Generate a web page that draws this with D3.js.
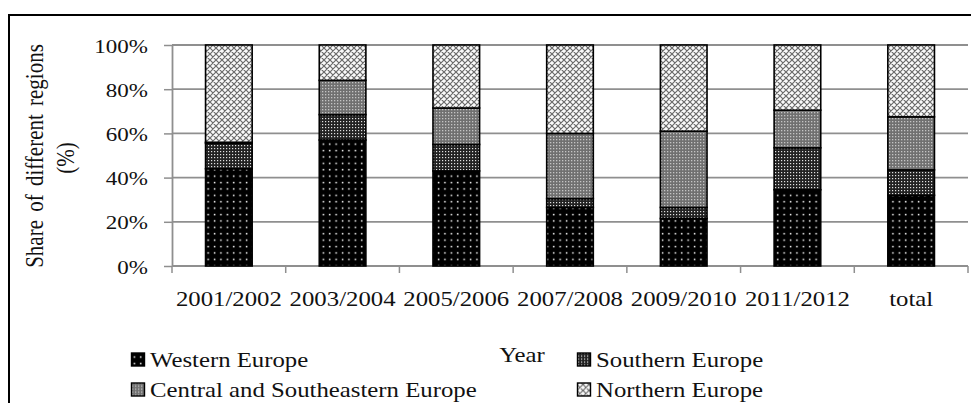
<!DOCTYPE html>
<html>
<head>
<meta charset="utf-8">
<script src="https://cdn.jsdelivr.net/npm/d3@7"></script>
<style>
  html, body { margin: 0; padding: 0; background: #fff; }
  svg { display: block; }
  svg text { font-family: "Liberation Serif", "DejaVu Serif", serif !important; fill: #111; }
</style>
</head>
<body>
<svg id="chart" width="971" height="403"></svg>
<script>
// Share of students by region of origin, per academic year (percent)
const categories = ["2001/2002", "2003/2004", "2005/2006", "2007/2008", "2009/2010", "2011/2012", "total"];
const western  = [44, 57, 43, 26.5, 21.5, 34.5, 32];
const southern = [11.5, 11.5, 12, 4, 5, 19, 11.5];
const central  = [0.5, 15.5, 16.5, 29.5, 34.5, 17, 24];
const northern = [44, 16, 28.5, 40, 39, 29.5, 32.5];
const seriesNames = ["Western Europe", "Southern Europe", "Central and Southeastern Europe", "Northern Europe"];
const yTicks = [0, 20, 40, 60, 80, 100];

const rows = categories.map((c, i) => ({
  cat: c,
  "Western Europe": western[i],
  "Southern Europe": southern[i],
  "Central and Southeastern Europe": central[i],
  "Northern Europe": northern[i]
}));

const svg = d3.select("#chart");
const SX = 1.18; // horizontal glyph stretch
const FONT = "'Liberation Serif', 'DejaVu Serif', serif";

// frame
svg.append("path").attr("d", "M9,403 V15 H971")
  .attr("fill", "none").attr("stroke", "#000").attr("stroke-width", 2);

// fill patterns
const defs = svg.append("defs");
function pat(id, size) {
  return defs.append("pattern").attr("id", id).attr("patternUnits", "userSpaceOnUse")
    .attr("width", size).attr("height", size);
}
let p = pat("pW", 6.4);
p.append("rect").attr("width", 6.4).attr("height", 6.4).attr("fill", "#000");
p.append("rect").attr("x", 2.6).attr("y", 2.6).attr("width", 1.5).attr("height", 1.5).attr("fill", "#fff");

p = pat("pS", 3);
p.append("rect").attr("width", 3).attr("height", 3).attr("fill", "#222");
p.append("rect").attr("x", 1).attr("y", 1).attr("width", 1.2).attr("height", 1.2).attr("fill", "#e0e0e0");

p = pat("pC", 3);
p.append("rect").attr("width", 3).attr("height", 3).attr("fill", "#707070");
p.append("rect").attr("x", 1).attr("y", 1).attr("width", 1.3).attr("height", 1.3).attr("fill", "#c4c4c4");

p = pat("pN", 6);
p.append("rect").attr("width", 6).attr("height", 6).attr("fill", "#fafafa");
p.append("path").attr("d", "M0,0 L6,6 M6,0 L0,6 M-1,5 L1,7 M5,-1 L7,1 M-1,1 L1,-1 M5,7 L7,5")
  .attr("stroke", "#6a6a6a").attr("stroke-width", 1.2);

const fills = {
  "Western Europe": "url(#pW)",
  "Southern Europe": "url(#pS)",
  "Central and Southeastern Europe": "url(#pC)",
  "Northern Europe": "url(#pN)"
};

// scales
const x = d3.scaleBand().domain(categories).range([172, 968])
  .paddingInner(0.59).paddingOuter(0.295);
const y = d3.scaleLinear().domain([0, 100]).range([266, 45]);
const step = x.step();

// gridlines
svg.append("g").selectAll("line").data(yTicks.filter(d => d > 0)).join("line")
  .attr("x1", 172).attr("x2", 968)
  .attr("y1", d => y(d)).attr("y2", d => y(d))
  .attr("stroke", "#8f8f8f").attr("stroke-width", 1.8);

// y axis
const yAxis = svg.append("g").attr("transform", "translate(172,0)")
  .call(d3.axisLeft(y).tickValues(yTicks).tickSizeInner(8).tickSizeOuter(0).tickFormat(d => d + "%"))
  .attr("font-family", FONT);
yAxis.select(".domain").attr("stroke", "#8f8f8f").attr("stroke-width", 1.8);
yAxis.selectAll(".tick line").attr("stroke", "#8f8f8f").attr("stroke-width", 1.5);
yAxis.selectAll(".tick text")
  .attr("x", 0).attr("dy", null).attr("y", 7)
  .attr("transform", `translate(-24,0) scale(${SX},1)`)
  .attr("text-anchor", "end")
  .style("font-size", "19.5px").attr("fill", "#111");

// x axis line and boundary ticks
const xg = svg.append("g");
xg.append("line").attr("x1", 172).attr("x2", 968).attr("y1", 266).attr("y2", 266)
  .attr("stroke", "#8f8f8f").attr("stroke-width", 1.8);
const bounds = categories.map(c => x(c) + x.bandwidth() / 2 - step / 2);
bounds.push(bounds[bounds.length - 1] + step);
xg.selectAll("line.tk").data(bounds).join("line").attr("class", "tk")
  .attr("x1", d => d).attr("x2", d => d).attr("y1", 266).attr("y2", 273)
  .attr("stroke", "#8f8f8f").attr("stroke-width", 1.5);
xg.selectAll("text").data(categories).join("text")
  .attr("transform", d => `translate(${x(d) + x.bandwidth() / 2},305.5) scale(${SX},1)`)
  .attr("text-anchor", "middle").style("font-size", "21px").text(d => d);

// stacked bars
const stack = d3.stack().keys(seriesNames)(rows);
svg.append("g").selectAll("g").data(stack).join("g")
  .attr("fill", d => fills[d.key])
  .selectAll("rect").data(d => d).join("rect")
  .attr("x", d => x(d.data.cat))
  .attr("width", x.bandwidth())
  .attr("y", d => y(d[1]))
  .attr("height", d => y(d[0]) - y(d[1]))
  .attr("stroke", "#000").attr("stroke-width", 1.6);

// axis titles
svg.append("text").attr("transform", `translate(522,362) scale(${SX},1)`)
  .attr("text-anchor", "middle").style("font-size", "21px").text("Year");
svg.append("text").attr("transform", `translate(43,156) scale(${SX},1) rotate(-90)`)
  .attr("text-anchor", "middle").style("font-size", "21px").style("word-spacing", "3px")
  .text("Share of different regions");
svg.append("text").attr("transform", `translate(74,158) scale(${SX},1) rotate(-90)`)
  .attr("text-anchor", "middle").style("font-size", "21px").text("(%)");

// legend
const legendPos = [
  { k: "Western Europe", x: 131, y: 366.5 },
  { k: "Southern Europe", x: 577, y: 366.5 },
  { k: "Central and Southeastern Europe", x: 131, y: 396.5 },
  { k: "Northern Europe", x: 577, y: 396.5 }
];
const lg = svg.append("g").selectAll("g").data(legendPos).join("g")
  .attr("transform", d => `translate(${d.x},${d.y})`);
lg.append("rect").attr("x", 0.5).attr("y", -13.5).attr("width", 13).attr("height", 13)
  .attr("fill", d => fills[d.k]).attr("stroke", "#000").attr("stroke-width", 1.4);
lg.append("text").attr("transform", `translate(19,0) scale(${SX},1)`)
  .style("font-size", "21px").text(d => d.k);
</script>
</body>
</html>
